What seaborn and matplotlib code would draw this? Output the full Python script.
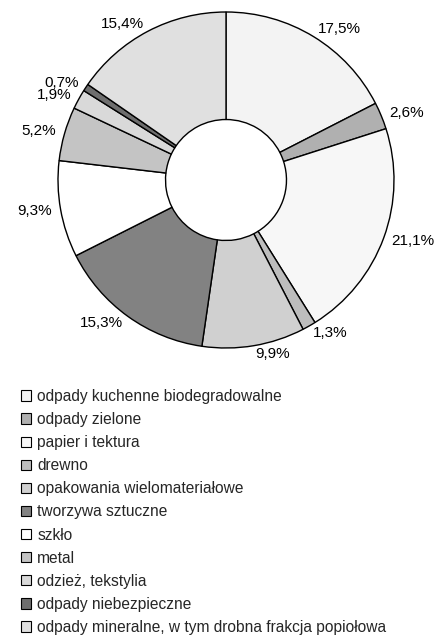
import matplotlib
matplotlib.use("Agg")
import matplotlib.pyplot as plt
import seaborn as sns
from matplotlib.patches import Patch

categories = [
    "odpady kuchenne biodegradowalne",
    "odpady zielone",
    "papier i tektura",
    "drewno",
    "opakowania wielomateriałowe",
    "tworzywa sztuczne",
    "szkło",
    "metal",
    "odzież, tekstylia",
    "odpady niebezpieczne",
    "odpady mineralne, w tym drobna frakcja popiołowa",
]
shares = [17.5, 2.6, 21.1, 1.3, 9.9, 15.3, 9.3, 5.2, 1.9, 0.7, 15.4]
labels = ["17,5%", "2,6%", "21,1%", "1,3%", "9,9%", "15,3%",
          "9,3%", "5,2%", "1,9%", "0,7%", "15,4%"]
greys = ["#f3f3f3", "#b0b0b0", "#f7f7f7", "#bdbdbd", "#d0d0d0", "#828282",
         "#ffffff", "#c4c4c4", "#d9d9d9", "#6e6e6e", "#e0e0e0"]

sns.set_theme(style="white")
plt.rcParams["font.family"] = ["Liberation Sans", "DejaVu Sans"]

fig = plt.figure(figsize=(4.38, 6.39), dpi=100)
# pie centre ~ (226, 180) px, radius ~168 px
ax = fig.add_axes([58 / 438, 1 - 348 / 639, 336 / 438, 336 / 639])

wedges, texts = ax.pie(
    shares, labels=labels, colors=greys, startangle=90, counterclock=False,
    labeldistance=1.05,
    wedgeprops=dict(width=0.64, edgecolor="black", linewidth=1.0),
    textprops=dict(fontsize=11, color="black"),
)
ax.set_xlim(-1, 1)
ax.set_ylim(-1, 1)
ax.set_aspect("equal")

handles = [Patch(facecolor=c, edgecolor="black", linewidth=0.8) for c in greys]
fig.legend(handles, categories, loc="upper left", bbox_to_anchor=(21 / 438, 1 - 389 / 639),
           frameon=False, fontsize=11.2, handlelength=0.65, handleheight=0.65,
           handletextpad=0.4, labelspacing=0.52, borderaxespad=0, borderpad=0)

fig.savefig("out.png", dpi=100)
